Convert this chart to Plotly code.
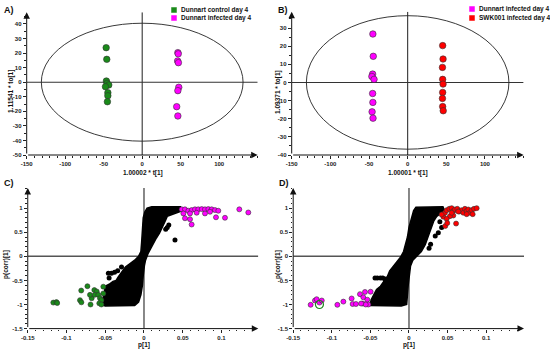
import plotly.graph_objects as go

# ---------------- data ----------------
A_ctrl_x = [-46.8, -46.0, -46.5, -45.5, -43.4, -47.7, -44.6, -44.6, -45.2]
A_ctrl_y = [23.7, 15.7, 0.8, -0.8, -1.9, -3.1, -7.2, -9.3, -13.4]
A_inf_x = [46.3, 46.8, 46.0, 47.0, 47.5, 46.3, 44.8, 46.3]
A_inf_y = [20.3, 19.5, 14.6, 13.4, -3.5, -5.8, -16.8, -23.2]

B_inf_x = [-45.0, -44.5, -45.3, -46.3, -43.5, -45.3, -45.0, -46.0, -44.8]
B_inf_y = [26.7, 14.4, 4.6, 3.3, 1.7, -6.1, -11.0, -16.2, -19.7]
B_swk_x = [45.3, 45.8, 45.0, 45.3, 45.8, 45.3, 45.0, 45.3, 46.0]
B_swk_y = [20.3, 12.9, 8.3, 1.7, -0.9, -5.5, -8.8, -13.3, -15.6]

C_ctrl_x = [-0.117, -0.113, -0.112, -0.081, -0.0826, -0.0808, -0.073, -0.0675, -0.069,
            -0.0641, -0.061, -0.0635, -0.059, -0.0568, -0.055, -0.0577, -0.055, -0.0525,
            -0.0525, -0.0697]
C_ctrl_y = [-0.96, -0.95, -0.97, -0.71, -0.91, -0.955, -0.62, -0.87, -1.0,
            -0.70, -0.73, -0.80, -0.80, -0.87, -0.91, -0.975, -1.0, -0.77,
            -0.63, -0.80]
C_inf_x = [0.0486, 0.0529, 0.0572, 0.0615, 0.0658, 0.070, 0.0745, 0.0787, 0.083, 0.0873,
           0.0916, 0.0959, 0.0508, 0.0594, 0.068, 0.0787, 0.0852, 0.0529, 0.0594, 0.0615,
           0.0929, 0.1045, 0.123, 0.1346]
C_inf_y = [0.975, 0.975, 0.946, 0.96, 0.975, 0.975, 0.98, 0.975, 0.98, 0.975,
           0.96, 0.946, 0.89, 0.89, 0.905, 0.89, 0.925, 0.79, 0.77, 0.66,
           0.81, 0.80, 0.975, 0.91]
C_cloud_x = [-0.055, -0.053, -0.051, -0.050, -0.045, -0.040, -0.036, -0.033, -0.030, -0.027,
             -0.024, -0.018, -0.012, -0.007, -0.004, -0.003, -0.002, -0.001,
             0.001, 0.004, 0.010, 0.047, 0.050, 0.042, 0.035, 0.030, 0.027, 0.024,
             0.020, 0.016, 0.012, 0.008, 0.005, 0.002, 0.0005, -0.001, -0.002, -0.004,
             -0.007, -0.012, -0.030, -0.050]
C_cloud_y = [-1.0, -0.9, -0.75, -0.62, -0.58, -0.52, -0.50, -0.42, -0.35, -0.28,
             -0.22, -0.15, -0.08, 0.0, 0.10, 0.30, 0.55, 0.80,
             0.92, 1.0, 1.03, 1.03, 0.95, 0.90, 0.86, 0.83, 0.72, 0.60,
             0.48, 0.38, 0.27, 0.15, 0.05, -0.08, -0.20, -0.40, -0.60, -0.80,
             -0.95, -1.02, -1.03, -1.03]
C_out_x = [0.040, 0.030, 0.028, 0.032, -0.046, -0.042, -0.038, -0.034, -0.029, -0.037, -0.045]
C_out_y = [0.34, 0.60, 0.56, 0.65, -0.35, -0.35, -0.33, -0.30, -0.22, -0.60, -0.45]

D_inf_x = [-0.1274, -0.1218, -0.1196, -0.116, -0.113, -0.0928, -0.085, -0.0743, -0.073,
           -0.0687, -0.0635, -0.0592, -0.054, -0.060, -0.057, -0.0497, -0.0527, -0.056, -0.062]
D_inf_y = [-1.006, -0.917, -0.89, -0.96, -0.917, -1.006, -0.94, -0.875, -0.99,
           -0.99, -0.785, -0.85, -0.90, -0.98, -0.74, -0.735, -1.0, -1.0, -0.98]
D_ring_x = [-0.116]
D_ring_y = [-1.0]
D_swk_x = [0.0445, 0.0466, 0.0488, 0.0522, 0.0553, 0.0574, 0.0596, 0.0626, 0.0652, 0.0682,
           0.0704, 0.0725, 0.0747, 0.0769, 0.0790, 0.0812, 0.0842, 0.0877, 0.0825, 0.0747,
           0.0574, 0.053, 0.0488, 0.047, 0.0496, 0.061, 0.0639, 0.0553, 0.0423]
D_swk_y = [0.82, 0.903, 0.958, 0.986, 1.0, 0.94, 0.972, 0.986, 0.93, 0.958,
           0.903, 0.986, 0.94, 0.972, 0.903, 0.958, 0.986, 1.0, 0.875, 0.875,
           0.847, 0.833, 0.778, 0.63, 0.69, 0.68, 0.93, 0.903, 0.868]
D_cloud_x = [-0.0505, -0.049, -0.045, -0.042, -0.037, -0.032, -0.028, -0.025,
             -0.020, -0.015, -0.011, -0.007, -0.005, -0.002, 0.0, 0.003, 0.006, 0.009,
             0.044, 0.046, 0.040, 0.036, 0.032, 0.028, 0.025, 0.021, 0.016, 0.010,
             0.005, 0.002, 0.0, -0.001, -0.002, -0.003, -0.010, -0.045]
D_cloud_y = [-1.02, -0.90, -0.78, -0.69, -0.62, -0.52, -0.42, -0.30,
             -0.20, -0.10, -0.02, 0.10, 0.22, 0.40, 0.60, 0.80, 0.95, 1.02,
             1.03, 0.95, 0.88, 0.83, 0.73, 0.56, 0.42, 0.24, 0.10, 0.0,
             -0.08, -0.20, -0.40, -0.60, -0.80, -1.0, -1.03, -1.03]
D_out_x = [0.040, 0.0423, 0.038, 0.034, 0.028, 0.026, -0.044, -0.041, -0.037, -0.034, -0.031]
D_out_y = [0.72, 0.60, 0.49, 0.42, 0.25, 0.17, -0.45, -0.45, -0.45, -0.45, -0.47]

A_ticks_x = [-150, -100, -50, 0, 50, 100]
A_ticks_y = [40, 30, 20, 10, 0, -10, -20, -30, -40, -50]
B_ticks_y = [30, 20, 10, 0, -10, -20, -30, -40]
S_ticks_x = [-0.15, -0.1, -0.05, 0, 0.05, 0.1]
S_ticks_y = [1, 0.5, 0, -0.5, -1, -1.5]

GREEN = "#1a8a1a"
MAGENTA = "#ff00ff"
RED = "#ff0000"
EDGE = "#333333"
FONT = "Liberation Sans"

fig = go.Figure()

def pts(x, y, color, size, xa, ya):
    fig.add_trace(go.Scatter(x=x, y=y, mode="markers", xaxis=xa, yaxis=ya, showlegend=False,
                             marker=dict(color=color, size=size, line=dict(color=EDGE, width=0.6))))

def cloud(x, y, ox, oy, xa, ya):
    fig.add_trace(go.Scatter(x=x + [x[0]], y=y + [y[0]], mode="lines", fill="toself",
                             fillcolor="black", line=dict(color="black", width=1.5),
                             xaxis=xa, yaxis=ya, showlegend=False))
    fig.add_trace(go.Scatter(x=ox, y=oy, mode="markers", xaxis=xa, yaxis=ya, showlegend=False,
                             marker=dict(color="black", size=5)))

# Panel A
pts(A_ctrl_x, A_ctrl_y, GREEN, 6.5, "x", "y")
pts(A_inf_x, A_inf_y, MAGENTA, 6.5, "x", "y")
# Panel B
pts(B_inf_x, B_inf_y, MAGENTA, 6.5, "x2", "y2")
pts(B_swk_x, B_swk_y, RED, 6.5, "x2", "y2")
# Panel C
cloud(C_cloud_x, C_cloud_y, C_out_x, C_out_y, "x3", "y3")
pts(C_ctrl_x, C_ctrl_y, GREEN, 5, "x3", "y3")
pts(C_inf_x, C_inf_y, MAGENTA, 5, "x3", "y3")
# Panel D
cloud(D_cloud_x, D_cloud_y, D_out_x, D_out_y, "x4", "y4")
pts(D_inf_x, D_inf_y, MAGENTA, 5, "x4", "y4")
pts(D_swk_x, D_swk_y, RED, 5, "x4", "y4")
fig.add_trace(go.Scatter(x=D_ring_x, y=D_ring_y, mode="markers", xaxis="x4", yaxis="y4",
                         showlegend=False,
                         marker=dict(color="rgba(0,0,0,0)", size=8, line=dict(color=GREEN, width=1.2))))

tickfont = dict(family=FONT, size=6, color="#222", weight="bold")

def axis(dom, rng, ticks, anchor, minor):
    return dict(domain=dom, range=rng, tickvals=ticks, ticktext=[f"{t:g}" for t in ticks],
                anchor=anchor, showgrid=False, zeroline=False, showline=False,
                ticks="outside", ticklen=3, tickcolor="#222", tickfont=tickfont,
                minor=dict(dtick=minor, ticks="outside", ticklen=1.5, tickcolor="#222", showgrid=False),
                fixedrange=True, automargin=False)

H = 354.0
W = 550.0
ydomTop = [(H - 155) / H, (H - 12.3) / H]
ydomBot = [(H - 328.6) / H, (H - 187.9) / H]

fig.update_layout(
    width=550, height=354, margin=dict(l=0, r=0, t=0, b=0, autoexpand=False),
    paper_bgcolor="white", plot_bgcolor="rgba(0,0,0,0)",
    hovermode=False,
    xaxis=axis([26.7 / W, 257.7 / W], [-150, 150], A_ticks_x, "y", 10),
    yaxis=axis(ydomTop, [-50, 48], A_ticks_y, "x", 5),
    xaxis2=axis([291.7 / W, 523.6 / W], [-150, 150], A_ticks_x, "y2", 10),
    yaxis2=axis([(H - 155) / H, (H - 11.7) / H], [-40, 39], B_ticks_y, "x2", 5),
    xaxis3=axis([27.75 / W, 258.3 / W], [-0.15, 0.1475], S_ticks_x, "y3", 0.01),
    yaxis3=axis(ydomBot, [-1.5, 1.42], S_ticks_y, "x3", 0.1),
    xaxis4=axis([293.2 / W, 524.0 / W], [-0.15, 0.149], S_ticks_x, "y4", 0.01),
    yaxis4=axis(ydomBot, [-1.5, 1.42], S_ticks_y, "x4", 0.1),
)

shapes = []
annos = []

def axes_lines(xa, ya, xr, yr, zcolor, zwidth):
    shapes.append(dict(type="line", xref=xa, yref=ya, x0=xr[0], x1=xr[1], y0=0, y1=0,
                       line=dict(color=zcolor, width=zwidth), layer="below"))
    shapes.append(dict(type="line", xref=xa, yref=ya, x0=0, x1=0, y0=yr[0], y1=yr[1],
                       line=dict(color=zcolor, width=zwidth), layer="below"))
    annos.append(dict(xref=xa, yref=ya, axref=xa, ayref=ya, x=xr[1], y=yr[0], ax=xr[0], ay=yr[0],
                      text="", showarrow=True, arrowhead=2, arrowsize=1.3, arrowwidth=1,
                      arrowcolor="#111"))
    annos.append(dict(xref=xa, yref=ya, axref=xa, ayref=ya, x=xr[0], y=yr[1], ax=xr[0], ay=yr[0],
                      text="", showarrow=True, arrowhead=2, arrowsize=1.3, arrowwidth=1,
                      arrowcolor="#111"))

axes_lines("x", "y", [-150, 150], [-50, 48], "#333", 1.1)
axes_lines("x2", "y2", [-150, 150], [-40, 39], "#333", 1.1)
axes_lines("x3", "y3", [-0.15, 0.1475], [-1.5, 1.42], "#555", 1.4)
axes_lines("x4", "y4", [-0.15, 0.149], [-1.5, 1.42], "#555", 1.4)

shapes.append(dict(type="circle", xref="x", yref="y", x0=-131, x1=131, y0=-40.5, y1=40.5,
                   line=dict(color="#222", width=0.9)))
shapes.append(dict(type="circle", xref="x2", yref="y2", x0=-131, x1=131, y0=-36.8, y1=36.8,
                   line=dict(color="#222", width=0.9)))

def ptext(x, y, s, size=7, bold=True, angle=0, anchor="center"):
    annos.append(dict(xref="paper", yref="paper", x=x / W, y=1 - y / H, text=f"<b>{s}</b>" if bold else s,
                      showarrow=False, font=dict(family=FONT, size=size, color="#111"),
                      textangle=angle, xanchor=anchor, yanchor="middle"))

ptext(9, 10, "A)", 9)
ptext(283, 10, "B)", 9)
ptext(9, 183, "C)", 9)
ptext(284, 183, "D)", 9)

ptext(142.7, 172.5, "1.00002 * t[1]", 6.5)
ptext(11, 92, "1.11541 * to[1]", 6.5, angle=-90)
ptext(407.7, 172.5, "1.00001 * t[1]", 6.5)
ptext(278, 92, "1.09371 * to[1]", 6.5, angle=-90)
ptext(144, 345, "p[1]", 6.5)
ptext(6, 265, "p(corr)[1]", 6.5, angle=-90)
ptext(409, 345, "p[1]", 6.5)
ptext(278, 265, "p(corr)[1]", 6.5, angle=-90)

def leg(x, y, color, label):
    shapes.append(dict(type="rect", xref="paper", yref="paper", x0=(x - 2.5) / W, x1=(x + 2.5) / W,
                       y0=1 - (y + 2.5) / H, y1=1 - (y - 2.5) / H, fillcolor=color,
                       line=dict(color=color, width=0.5)))
    ptext(x + 5, y, label, 6.5, anchor="left")

leg(174, 10, GREEN, "Dunnart control day 4")
leg(174, 18, MAGENTA, "Dunnart infected day 4")
leg(472, 9, MAGENTA, "Dunnart infected day 4")
leg(472, 18, RED, "SWK001 infected day 4")

fig.update_layout(shapes=shapes, annotations=annos)
fig.write_html("out.html", config={"displayModeBar": False, "staticPlot": True},
               post_script="document.body.style.margin='0';document.body.style.overflow='hidden';")
